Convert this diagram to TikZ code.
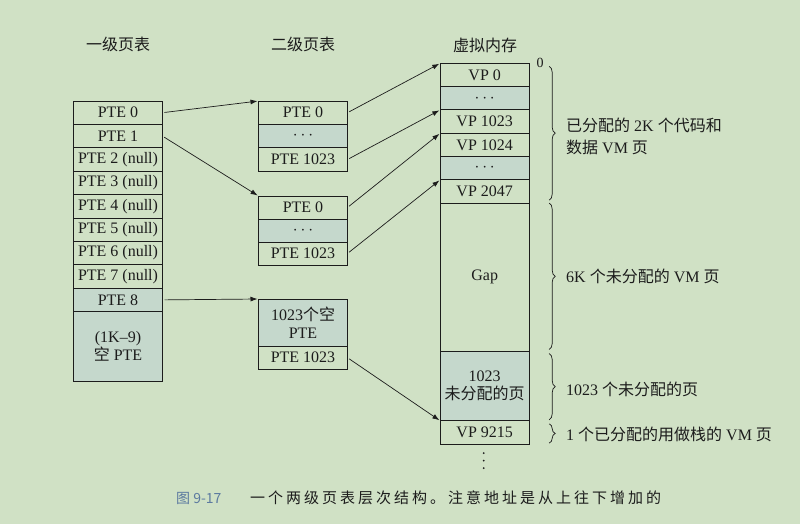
\documentclass[tikz,border=0pt]{standalone}
\usepackage{fontspec}
\setmainfont{Liberation Serif}
\newfontfamily\cjk{Noto Sans CJK SC}
\newfontfamily\capcjk[LetterSpace=20]{Noto Sans CJK SC}
\usetikzlibrary{calc}
\usetikzlibrary{positioning}
\usetikzlibrary{arrows.meta}
\usetikzlibrary{decorations.pathreplacing}
\definecolor{paper}{RGB}{208,225,197}
\definecolor{shade}{RGB}{197,216,204}
\definecolor{ink}{RGB}{28,28,28}
\definecolor{figblue}{RGB}{92,122,160}
\tikzstyle{cell}=[draw=ink,line width=0.8pt,minimum width=89pt,minimum height=23.4pt,inner sep=0pt,outer sep=0pt,text=ink,align=center,font=\fontsize{16}{18}\selectfont]
\tikzstyle{dotcell}=[cell,fill=shade]
\tikzstyle{pointer}=[draw=ink,line width=0.7pt,shorten <=2pt,shorten >=1pt,-{Latex[length=7pt,width=5pt]}]
\tikzstyle{bracket}=[draw=ink,line width=0.7pt,decorate,decoration={brace,amplitude=6pt}]
\tikzstyle{note}=[anchor=west,inner sep=0pt,text=ink,align=left,font=\fontsize{16}{22}\selectfont]
\tikzstyle{title}=[text=ink,font=\fontsize{16}{18}\selectfont\cjk]
\newcommand{\stackcell}[4][cell]{ % Syntax: [style] {node above} {name} {text}
	\node[#1,below=0pt of #2] (#3) {#4};
}

\begin{document}
\begin{tikzpicture}[x=1pt,y=-1pt]
	\fill[paper] (0,0) rectangle (800,524);
	\useasboundingbox (0,0) rectangle (800,524);
	% column titles
	\node[title] (l1title) at (118,44) {一级页表};
	\node[title] (l2title) at (303,44) {二级页表};
	\node[title] (vmtitle) at (485,45) {虚拟内存};
	% level 1 page table
	\node[cell,anchor=north] (pte0) at (118,101) {PTE 0};
	\stackcell{pte0}{pte1}{PTE 1}
	\foreach \i [remember=\i as \last (initially 1)] in {2,...,7}
		\node[cell,below=0pt of pte\last] (pte\i) {PTE \i\ (null)};
	\stackcell[dotcell]{pte7}{pte8}{PTE 8}
	\stackcell[dotcell,minimum height=70pt]{pte8}{ptenull}{(1K--9)\\{\cjk 空} PTE}
	% level 2 page tables
	\node[cell,anchor=north] (ta0) at (303,101) {PTE 0};
	\stackcell[dotcell]{ta0}{ta1}{$\cdots$}
	\stackcell{ta1}{ta2}{PTE 1023}
	\node[cell,anchor=north,minimum height=23pt] (tb0) at (303,196) {PTE 0};
	\stackcell[dotcell,minimum height=23pt]{tb0}{tb1}{$\cdots$}
	\stackcell[cell,minimum height=23pt]{tb1}{tb2}{PTE 1023}
	\node[dotcell,anchor=north,minimum height=47pt] (tc0) at (303,299) {1023{\cjk 个空}\\PTE};
	\stackcell{tc0}{tc1}{PTE 1023}
	% virtual memory
	\node[cell,anchor=north,minimum height=23.3pt] (vp0) at (484.7,63.3) {VP 0};
	\stackcell[dotcell,minimum height=23.3pt]{vp0}{vpa}{$\cdots$}
	\stackcell[cell,minimum height=23.3pt]{vpa}{vp1023}{VP 1023}
	\stackcell[cell,minimum height=23.3pt]{vp1023}{vp1024}{VP 1024}
	\stackcell[dotcell,minimum height=23.3pt]{vp1024}{vpb}{$\cdots$}
	\stackcell[cell,minimum height=23.3pt]{vpb}{vp2047}{VP 2047}
	\stackcell[cell,minimum height=148.4pt]{vp2047}{gap}{Gap}
	\stackcell[dotcell,minimum height=69.3pt]{gap}{vpfree}{1023\\{\cjk 未分配的页}}
	\stackcell[cell,minimum height=23.3pt]{vpfree}{vp9215}{VP 9215}
	\foreach \d in {0,1,2}
		\fill[ink] ($(vp9215.south)+(-1,9+7.5*\d)$) circle (1pt);
	\node[text=ink,font=\fontsize{14}{14}\selectfont] (origin) at (540,63) {0};
	% pointers
	\draw[pointer] (pte0.east) -- (ta0.north west);
	\draw[pointer] (pte1.east) -- (tb0.north west);
	\draw[pointer] (pte8.east) -- (tc0.north west);
	\draw[pointer] (ta0.east) -- (vp0.north west);
	\draw[pointer] (ta2.east) -- (vp1023.north west);
	\draw[pointer] (tb0.east) -- (vp1024.north west);
	\draw[pointer] (tb2.east) -- (vp2047.north west);
	\draw[pointer] (tc1.east) -- (vp9215.north west);
	% braces and their notes
	\draw[bracket] ($(vp0.north east)+(20,3)$) -- ($(vp2047.south east)+(20,-3)$);
	\draw[bracket] ($(gap.north east)+(20,0)$) -- ($(gap.south east)+(20,-2)$);
	\draw[bracket] ($(vpfree.north east)+(20,2)$) -- ($(vpfree.south east)+(20,-1)$);
	\draw[bracket] ($(vp9215.north east)+(20,3)$) -- ($(vp9215.south east)+(20,-1)$);
	\node[note] (notecode) at (566,136) {{\cjk 已分配的} 2K {\cjk 个代码和}\\{\cjk 数据} VM {\cjk 页}};
	\node[note] (notegap) at (566,276) {6K {\cjk 个未分配的} VM {\cjk 页}};
	\node[note] (notefree) at (566,389) {1023 {\cjk 个未分配的页}};
	\node[note] (notestack) at (566,434) {1 {\cjk 个已分配的用做栈的} VM {\cjk 页}};
	% caption
	\node[anchor=west,inner sep=0pt,text=figblue,font=\fontsize{14}{14}\selectfont\cjk] (figno) at (176,498) {图 9-17};
	\node[anchor=west,inner sep=0pt,text=ink,font=\fontsize{15}{15}\selectfont\capcjk] (figtext) at (250,498) {一个两级页表层次结构。注意地址是从上往下增加的};
\end{tikzpicture}
\end{document}
